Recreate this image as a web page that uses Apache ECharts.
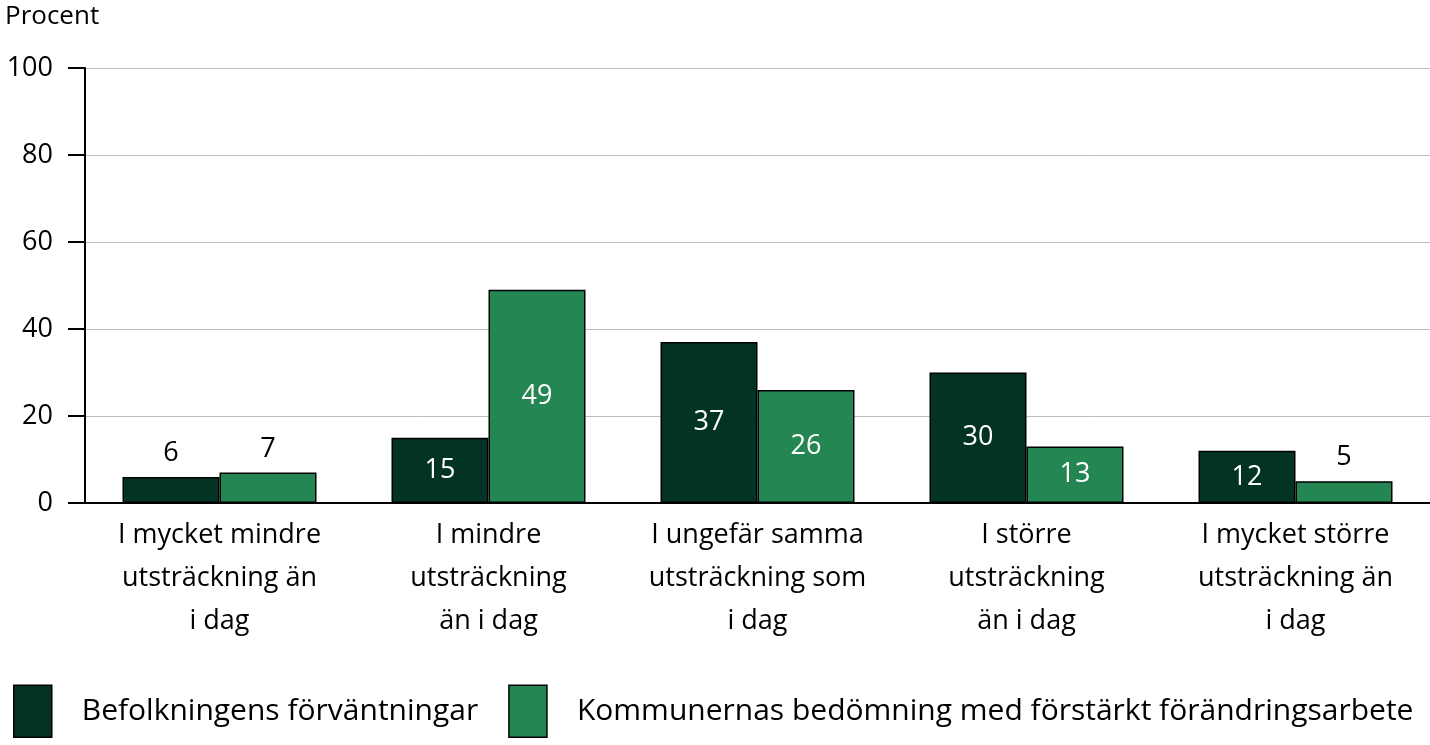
<!DOCTYPE html>
<html><head><meta charset="utf-8">
<script src="https://cdn.jsdelivr.net/npm/echarts@6/dist/echarts.min.js"></script>
<style>html,body{margin:0;padding:0;background:#fff}#c{width:1430px;height:745px}</style>
</head><body><div id="c"></div>
<script>
const categories = ["I mycket mindre\nutsträckning än\ni dag","I mindre\nutsträckning\nän i dag","I ungefär samma\nutsträckning som\ni dag","I större\nutsträckning\nän i dag","I mycket större\nutsträckning än\ni dag"];
const seriesNames = ["Befolkningens förväntningar","Kommunernas bedömning med förstärkt förändringsarbete"];
const befolkning = [6,15,37,30,12];
const kommuner = [7,49,26,13,5];
const yTicks = [0,20,40,60,80,100];
const colors = ["#033324","#248652"];
const FONT = "Open Sans";

function items(vals){
  return vals.map(v => ({
    value: v,
    label: v < 10 ? {position:'top', color:'#000', distance:10} : {position:'inside', color:'#fff'}
  }));
}
const chart = echarts.init(document.getElementById('c'));
chart.setOption({
  animation:false,
  textStyle:{fontFamily:FONT},
  grid:{left:85,right:0,top:68,bottom:242,containLabel:false},
  graphic:[{type:'text',left:5,top:4,style:{text:'Procent',font:'26px "'+FONT+'"',fill:'#000'}}],
  legend:{
    bottom:2,left:8,itemWidth:38,itemHeight:52,itemGap:30,icon:'rect',
    textStyle:{fontSize:30,fontFamily:FONT,color:'#000',padding:[0,0,0,25]},
    data:seriesNames.map((n,i)=>({name:n,itemStyle:{color:colors[i],borderColor:'#000',borderWidth:1.5}}))
  },
  xAxis:{type:'category',data:categories,
    axisLine:{lineStyle:{color:'#000',width:2}},axisTick:{show:false},
    axisLabel:{fontSize:27,fontFamily:FONT,color:'#000',lineHeight:43,margin:11,interval:0}},
  yAxis:{type:'value',min:yTicks[0],max:yTicks[yTicks.length-1],interval:20,
    axisLine:{show:true,lineStyle:{color:'#000',width:2}},
    axisTick:{show:true,length:17,lineStyle:{color:'#000',width:2}},
    axisLabel:{fontSize:27,fontFamily:FONT,color:'#000',margin:32},
    splitLine:{lineStyle:{color:'#bdbdbd',width:1}}},
  series:[
    {name:seriesNames[0],type:'bar',data:items(befolkning),barWidth:97,barGap:'0%',
     itemStyle:{color:colors[0],borderColor:'#000',borderWidth:1.5},
     label:{show:true,fontSize:27,fontFamily:FONT}},
    {name:seriesNames[1],type:'bar',data:items(kommuner),barWidth:97,barGap:'0%',
     itemStyle:{color:colors[1],borderColor:'#000',borderWidth:1.5},
     label:{show:true,fontSize:27,fontFamily:FONT}}
  ]
});
</script></body></html>
